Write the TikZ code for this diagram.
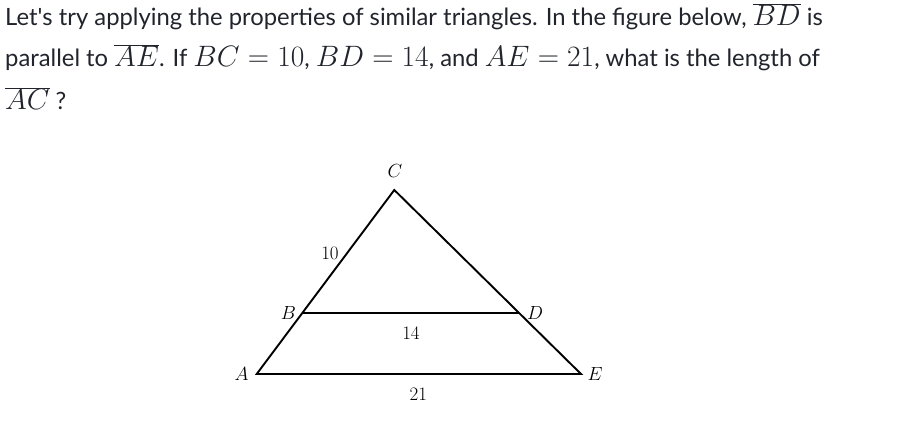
\RequirePackage{fix-cm}
\documentclass[tikz,border=0pt]{standalone}
\usepackage{fontspec}
\setmainfont{Lato}
\usetikzlibrary{calc}
\definecolor{txt}{HTML}{21242C}
\newcommand{\mth}[1]{{\fontsize{29.5}{30}\selectfont$#1$}}
\tikzset{
  para/.style={anchor=base west, inner sep=0pt, text=txt, font=\fontsize{23.8}{26}\selectfont},
  edge/.style={line width=1.9pt, line join=miter, black},
  vlab/.style={inner sep=0pt, font=\fontsize{19}{21}\selectfont}
}
\begin{document}
\begin{tikzpicture}[x=1pt,y=-1pt]
\useasboundingbox (0,0) rectangle (913,427);
\node[para] (l1) at (5,26) {Let\textquotesingle s try applying the properties of similar triangles. In the figure below, \mth{\overline{BD}} is};
\node[para] (l2) at (5,67) {parallel to \mth{\overline{AE}}. If \mth{BC=10}, \mth{BD=14}, and \mth{AE=21}, what is the length of};
\node[para] (l3) at (5,110) {\mth{\overline{AC}} ?};

\coordinate (A) at (256.7,374);
\coordinate (C) at (394.3,190);
\coordinate (E) at (581,374);
\coordinate (B) at ($(A)!0.3333!(C)$);
\coordinate (D) at ($(E)!0.3333!(C)$);
\draw[edge] (A) -- (C) -- (E) -- cycle;
\draw[edge] (B) -- (D);

\node[vlab] (lC) at (395,171) {$C$};
\node[vlab] (lA) at (241.7,374) {$A$};
\node[vlab] (lE) at (595,374) {$E$};
\node[vlab] (lB) at (288.3,312.7) {$B$};
\node[vlab] (lD) at (535,312.7) {$D$};
\node[vlab] (l10) at (330,253) {$10$};
\node[vlab] (l14) at (411,333.3) {$14$};
\node[vlab] (l21) at (418.3,394.3) {$21$};
\end{tikzpicture}
\end{document}
